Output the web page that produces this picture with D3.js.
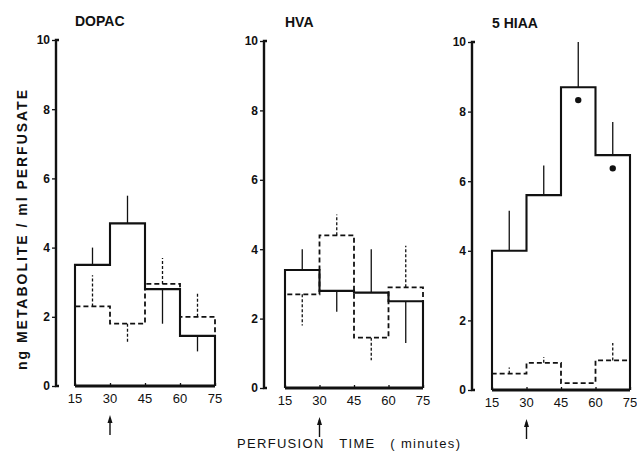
<!DOCTYPE html>
<html>
<head>
<meta charset="utf-8">
<script src="https://d3js.org/d3.v7.min.js"></script>
<style>
  body { margin: 0; background: #fff; }
  svg { display: block; }
  text { font-family: "Liberation Sans", Arial, sans-serif; fill: #111; }
</style>
</head>
<body>
<div id="chart"></div>
<script>
// bin edges (minutes) and ticks
const binEdges = [15, 30, 45, 60, 75];
const xTicks = [15, 30, 45, 60, 75];
const yTicks = [0, 2, 4, 6, 8, 10];
const titles = ["DOPAC", "HVA", "5 HIAA"];

// means per 15-min bin, signed error bar length (+ up, - down)
const dopacSolid = [3.5, 4.7, 2.8, 1.45];
const dopacSolidErr = [0.5, 0.8, -1.0, -0.45];
const dopacDashed = [2.3, 1.8, 2.95, 2.0];
const dopacDashedErr = [0.9, -0.55, 0.75, 0.7];

const hvaSolid = [3.4, 2.8, 2.75, 2.5];
const hvaSolidErr = [0.6, -0.6, 1.25, -1.2];
const hvaDashed = [2.7, 4.4, 1.45, 2.9];
const hvaDashedErr = [-0.9, 0.6, -0.65, 1.2];

const hiaaSolid = [4.0, 5.6, 8.7, 6.75];
const hiaaSolidErr = [1.15, 0.85, 1.3, 0.95];
const hiaaDashed = [0.47, 0.78, 0.2, 0.85];
const hiaaDashedErr = [0.18, 0.17, 0, 0.5];
// significance marks
const hiaaStars = [null, null, 8.33, 6.37];

const W = 637, H = 457;
const svg = d3.select("#chart").append("svg").attr("width", W).attr("height", H);

const panels = [
  { axisX: 56, x0: 75, x1: 215, y0: 386, y1: 40, solid: dopacSolid, solidErr: dopacSolidErr, dashed: dopacDashed, dashedErr: dopacDashedErr, stars: [] },
  { axisX: 264, x0: 285, x1: 423, y0: 388, y1: 41, solid: hvaSolid, solidErr: hvaSolidErr, dashed: hvaDashed, dashedErr: hvaDashedErr, stars: [] },
  { axisX: 472, x0: 492, x1: 630, y0: 390, y1: 42, solid: hiaaSolid, solidErr: hiaaSolidErr, dashed: hiaaDashed, dashedErr: hiaaDashedErr, stars: hiaaStars }
];

panels.forEach((p, i) => {
  const g = svg.append("g");
  const x = d3.scaleLinear().domain([15, 75]).range([p.x0, p.x1]);
  const y = d3.scaleLinear().domain([0, 10]).range([p.y0, p.y1]);

  // title
  g.append("text").attr("x", x(15)).attr("y", y(10) - 14)
    .attr("font-size", 14).attr("font-weight", "bold").text(titles[i]);

  // y axis
  const ya = g.append("g").attr("transform", `translate(${p.axisX},0)`)
    .call(d3.axisLeft(y).tickValues(yTicks).tickSize(4).tickPadding(2));
  ya.select(".domain").remove();
  ya.selectAll(".tick line").attr("stroke", "#111").attr("stroke-width", 1.3);
  ya.selectAll(".tick text").attr("font-size", 12).attr("font-weight", "bold").attr("fill", "#111")
    .style("font-family", "Liberation Sans, Arial, sans-serif");
  g.append("path")
    .attr("d", `M${p.axisX + 3},${y(10)}H${p.axisX}V${y(0)}H${p.axisX + 3}`)
    .attr("fill", "none").attr("stroke", "#111").attr("stroke-width", 2.4);

  // x axis
  const xa = g.append("g").attr("transform", `translate(0,${y(0)})`)
    .call(d3.axisTop(x).tickValues(xTicks).tickSize(3).tickFormat(""));
  xa.select(".domain").attr("stroke", "#111").attr("stroke-width", 2.8)
    .attr("d", `M${x(15)},0H${x(75)}`);
  xa.selectAll(".tick line").attr("stroke", "#111").attr("stroke-width", 1.3);
  xTicks.forEach(t => {
    g.append("text").attr("x", x(t)).attr("y", y(0) + 17)
      .attr("text-anchor", "middle").attr("font-size", 13).text(t);
  });

  // histogram step outline
  const stepPath = vals => {
    let d = `M${x(binEdges[0])},${y(0)}`;
    vals.forEach((v, k) => {
      d += `V${y(v)}H${x(binEdges[k + 1])}`;
    });
    d += `V${y(0)}`;
    return d;
  };
  const mid = k => (binEdges[k] + binEdges[k + 1]) / 2;

  // error bars
  p.dashed.forEach((v, k) => {
    if (!p.dashedErr[k]) return;
    g.append("line").attr("x1", x(mid(k))).attr("x2", x(mid(k)))
      .attr("y1", y(v)).attr("y2", y(v + p.dashedErr[k]))
      .attr("stroke", "#111").attr("stroke-width", 1.3).attr("stroke-dasharray", "3,2");
  });
  p.solid.forEach((v, k) => {
    g.append("line").attr("x1", x(mid(k))).attr("x2", x(mid(k)))
      .attr("y1", y(v)).attr("y2", y(v + p.solidErr[k]))
      .attr("stroke", "#111").attr("stroke-width", 1.3);
  });

  g.append("path").attr("d", stepPath(p.dashed)).attr("fill", "none")
    .attr("stroke", "#111").attr("stroke-width", 1.8).attr("stroke-dasharray", "5,3");
  g.append("path").attr("d", stepPath(p.solid)).attr("fill", "none")
    .attr("stroke", "#111").attr("stroke-width", 2.1);

  // significance stars
  p.stars.forEach((v, k) => {
    if (v == null) return;
    g.append("path").attr("transform", `translate(${x(mid(k))},${y(v)})`)
      .attr("d", d3.symbol(d3.symbolCircle, 32)()).attr("fill", "#111");
  });

  // arrow at 30 min
  const ax = x(30);
  g.append("line").attr("x1", ax).attr("x2", ax).attr("y1", y(0) + 32).attr("y2", y(0) + 49)
    .attr("stroke", "#111").attr("stroke-width", 1.4);
  g.append("path").attr("d", `M${ax},${y(0) + 29}L${ax - 2.5},${y(0) + 37}L${ax + 2.5},${y(0) + 37}Z`)
    .attr("fill", "#111");
});

// axis titles
svg.append("text").attr("transform", "translate(27,230) rotate(-90)")
  .attr("text-anchor", "middle").attr("font-size", 14).attr("font-weight", 600)
  .attr("textLength", 280).attr("lengthAdjust", "spacing")
  .text("ng METABOLITE / ml PERFUSATE");

svg.append("text").attr("x", 237).attr("y", 448)
  .attr("font-size", 13).attr("textLength", 223).attr("lengthAdjust", "spacing")
  .attr("xml:space", "preserve")
  .text("PERFUSION   TIME   ( minutes)");
</script>
</body>
</html>
